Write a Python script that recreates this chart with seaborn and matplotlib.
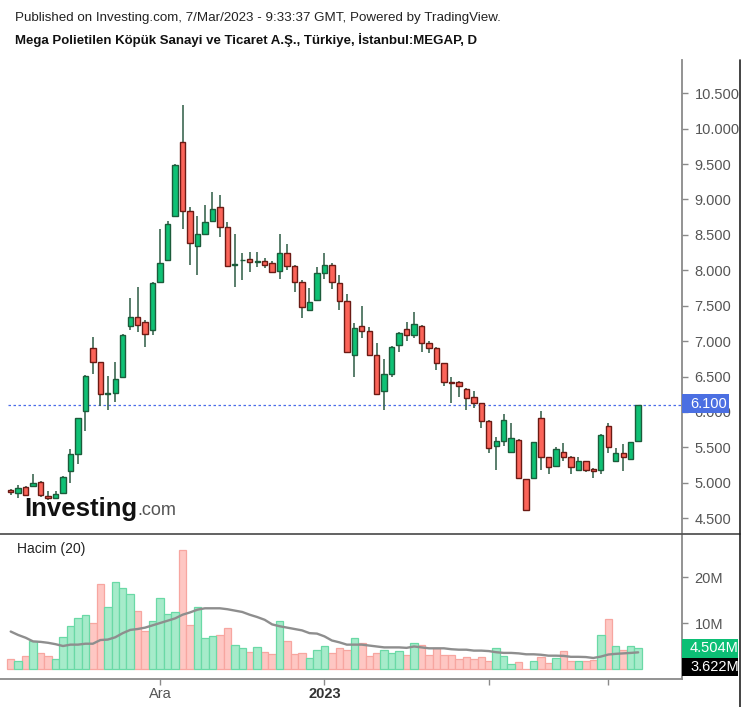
import numpy as np
import pandas as pd
import matplotlib
matplotlib.use("Agg")
import matplotlib.pyplot as plt
from matplotlib.patches import Rectangle
from matplotlib.lines import Line2D
import seaborn as sns

# ---------------- data ----------------
open_ = [4.90, 4.86, 4.94, 4.95, 5.01, 4.81, 4.79, 4.85, 5.17, 5.40,
         6.01, 6.90, 6.70, 6.26, 6.27, 6.49, 7.21, 7.34, 7.27, 7.15,
         7.83, 8.15, 8.77, 9.81, 8.84, 8.34, 8.51, 8.70, 8.89, 8.61,
         8.07, 8.14, 8.16, 8.12, 8.13, 8.11, 7.99, 8.25, 8.06, 7.84,
         7.44, 7.58, 7.96, 8.08, 7.82, 7.57, 6.80, 7.22, 7.14, 6.81,
         6.29, 6.54, 6.95, 7.17, 7.09, 7.22, 6.98, 6.90, 6.69, 6.42,
         6.42, 6.33, 6.21, 6.12, 5.87, 5.52, 5.59, 5.43, 5.61, 5.05,
         5.06, 5.91, 5.36, 5.24, 5.44, 5.37, 5.18, 5.30, 5.20, 5.18,
         5.80, 5.31, 5.42, 5.34, 5.59]
high_ = [4.91, 4.97, 4.95, 5.12, 5.02, 4.89, 4.89, 5.10, 5.47, 5.92,
         6.52, 7.06, 6.71, 6.51, 6.70, 7.10, 7.61, 7.77, 7.30, 7.83,
         8.59, 8.69, 9.50, 10.33, 8.90, 8.76, 8.92, 9.10, 9.06, 8.68,
         8.51, 8.24, 8.26, 8.26, 8.17, 8.13, 8.51, 8.37, 8.07, 7.86,
         7.75, 8.04, 8.25, 8.11, 7.94, 7.66, 7.25, 7.49, 7.20, 6.97,
         6.75, 6.93, 7.13, 7.27, 7.41, 7.23, 7.00, 6.92, 6.69, 6.50,
         6.43, 6.34, 6.30, 6.13, 5.88, 5.65, 5.97, 5.84, 5.62, 5.05,
         5.58, 6.02, 5.37, 5.51, 5.56, 5.38, 5.36, 5.31, 5.21, 5.69,
         5.84, 5.49, 5.55, 5.58, 6.10]
low_ = [4.83, 4.79, 4.81, 4.94, 4.80, 4.76, 4.77, 4.84, 4.99, 5.26,
        5.73, 6.54, 6.08, 6.03, 6.14, 6.48, 7.16, 7.13, 6.91, 7.08,
        7.82, 8.14, 8.76, 8.58, 8.07, 7.93, 8.50, 8.69, 8.47, 8.05,
        7.77, 7.86, 7.98, 8.04, 8.03, 7.96, 7.88, 8.00, 7.69, 7.32,
        7.42, 7.57, 7.88, 7.74, 7.44, 6.83, 6.50, 7.05, 6.79, 6.25,
        6.03, 6.49, 6.85, 7.00, 7.05, 6.85, 6.83, 6.59, 6.36, 6.12,
        6.21, 6.03, 6.06, 5.77, 5.42, 5.18, 5.52, 5.42, 5.05, 4.61,
        5.05, 5.18, 5.13, 5.22, 5.30, 5.12, 5.16, 5.15, 5.06, 5.13,
        5.42, 5.30, 5.17, 5.33, 5.58]
close_ = [4.87, 4.93, 4.83, 4.99, 4.83, 4.79, 4.84, 5.08, 5.40, 5.91,
          6.51, 6.70, 6.26, 6.27, 6.46, 7.09, 7.34, 7.23, 7.10, 7.82,
          8.11, 8.65, 9.49, 8.84, 8.38, 8.51, 8.68, 8.86, 8.61, 8.06,
          8.08, 8.15, 8.12, 8.13, 8.08, 7.97, 8.24, 8.06, 7.83, 7.48,
          7.55, 7.96, 8.08, 7.83, 7.57, 6.84, 7.19, 7.14, 6.80, 6.26,
          6.54, 6.92, 7.12, 7.09, 7.24, 6.97, 6.90, 6.69, 6.42, 6.41,
          6.37, 6.19, 6.13, 5.87, 5.49, 5.59, 5.88, 5.63, 5.06, 4.62,
          5.57, 5.36, 5.22, 5.47, 5.37, 5.22, 5.30, 5.18, 5.17, 5.68,
          5.50, 5.42, 5.36, 5.57, 6.10]
volume_m = [2.1, 1.85, 2.9, 6.0, 3.4, 2.9, 2.1, 7.0, 9.4, 11.0,
            11.8, 10.0, 18.4, 13.5, 19.0, 17.6, 16.2, 12.7, 8.2, 10.5,
            15.4, 11.9, 12.5, 25.8, 9.5, 13.4, 6.7, 7.1, 7.4, 8.9,
            5.3, 4.6, 3.8, 4.7, 3.8, 3.2, 10.5, 6.0, 3.2, 3.4,
            2.35, 4.2, 5.0, 3.4, 4.6, 4.2, 6.8, 5.7, 2.9, 3.4,
            4.2, 3.4, 4.0, 3.15, 5.7, 5.3, 3.15, 4.6, 3.15, 3.15,
            2.1, 2.7, 2.1, 2.7, 1.85, 4.6, 2.9, 1.0, 1.6, 0.1,
            1.85, 2.7, 1.35, 2.35, 4.0, 1.85, 1.85, 1.85, 1.9, 7.3,
            10.8, 5.1, 4.2, 4.9, 4.504]
vol_ma_m = [8.15, 7.4, 6.8, 6.0, 5.9, 5.7, 5.4, 5.0, 5.3, 5.3,
            5.5, 5.5, 6.3, 6.4, 6.9, 7.8, 8.5, 8.7, 9.0, 9.5,
            10.0, 10.5, 11.0, 11.8, 12.3, 12.9, 13.2, 13.2, 13.2, 13.0,
            12.7, 12.4, 11.8, 11.3, 10.7, 9.7, 9.3, 9.0, 8.7, 8.4,
            7.8, 7.7, 7.1, 6.2, 5.8, 5.3, 5.3, 5.3, 5.1, 4.9,
            4.7, 4.7, 4.7, 4.6, 4.9, 4.7, 4.5, 4.5, 4.5, 4.3,
            4.2, 4.2, 4.0, 4.0, 3.9, 3.65, 3.5, 3.5, 3.4, 3.2,
            3.2, 3.1, 2.9, 2.9, 2.85, 2.65, 2.65, 2.6, 2.4, 2.7,
            3.15, 3.3, 3.4, 3.5, 3.622]
price_ticks = [4.5, 5.0, 5.5, 6.0, 6.5, 7.0, 7.5, 8.0, 8.5, 9.0, 9.5, 10.0, 10.5]
price_tick_labels = ["4.500", "5.000", "5.500", "6.000", "6.500", "7.000", "7.500",
                     "8.000", "8.500", "9.000", "9.500", "10.000", "10.500"]
vol_ticks = [10, 20]
vol_tick_labels = ["10M", "20M"]
date_tick_pos = [20, 42, 64, 80]
date_tick_labels = ["Ara", "2023", "", ""]
last_price = 6.10
last_price_label = "6.100"
last_vol_label = "4.504M"
last_ma_label = "3.622M"
header_1 = "Published on Investing.com, 7/Mar/2023 - 9:33:37 GMT, Powered by TradingView."
header_2 = "Mega Polietilen Köpük Sanayi ve Ticaret A.Ş., Türkiye, İstanbul:MEGAP, D"
vol_title = "Hacim (20)"

# ---------------- style ----------------
sns.set_theme(style="white")
plt.rcParams["font.family"] = ["Liberation Sans", "DejaVu Sans"]

UP_FILL, UP_EDGE = "#0fc175", "#1b5c3b"
DN_FILL, DN_EDGE = "#fb6459", "#6b1a14"
WICK = "#2c5b44"
VUP_FILL, VUP_EDGE = "#a6ebca", "#6ad9a6"
VDN_FILL, VDN_EDGE = "#fec7c3", "#f7a6a0"
AXIS_GREY = "#8a8a8a"
LABEL_GREY = "#555555"

W, H = 747, 707
fig = plt.figure(figsize=(W / 100, H / 100), dpi=100)
fig.patch.set_facecolor("white")


def rect(x0, y0, x1, y1):
    return [x0 / W, 1 - y1 / H, (x1 - x0) / W, (y1 - y0) / H]


axp = fig.add_axes(rect(0, 60, 682, 534))
axv = fig.add_axes(rect(0, 534, 682, 679), sharex=axp)

o = np.array(open_)
h = np.array(high_)
l = np.array(low_)
c = np.array(close_)
x = np.arange(len(c))
up = c >= o

# ---------------- candles ----------------
axp.vlines(x, l, h, color=WICK, lw=1.1, zorder=2)
body_b = np.minimum(o, c)
body_h = np.maximum(np.abs(c - o), 0.012)
axp.bar(x, body_h, bottom=body_b, width=0.72,
        color=np.where(up, UP_FILL, DN_FILL),
        edgecolor=np.where(up, UP_EDGE, DN_EDGE), linewidth=1.0, zorder=3)

axp.hlines(last_price, -0.36, 90, colors="#4a6de8", linestyles=(0, (2, 2)), lw=0.9, zorder=1)

axp.set_ylim(4.276, 10.97)
axp.set_yticks(price_ticks)
axp.set_yticklabels(price_tick_labels)
axp.yaxis.tick_right()
axp.tick_params(axis="y", right=True, left=False, length=4, width=1, color=AXIS_GREY,
                labelcolor=LABEL_GREY, labelsize=10.5, pad=5)
axp.tick_params(axis="x", bottom=False, labelbottom=False)
for s in ["top", "left", "bottom"]:
    axp.spines[s].set_visible(False)
axp.spines["right"].set_color(AXIS_GREY)
axp.spines["right"].set_linewidth(1.3)

# ---------------- volume ----------------
dfv = pd.DataFrame({"i": x, "vol": volume_m, "dir": np.where(up, "up", "down")})
sns.barplot(data=dfv, x="i", y="vol", hue="dir",
            palette={"up": VUP_FILL, "down": VDN_FILL},
            native_scale=True, dodge=False, width=1.0, errorbar=None,
            saturation=1, legend=False, ax=axv, zorder=2)
for p in axv.patches:
    idx = int(round(p.get_x() + p.get_width() / 2))
    if 0 <= idx < len(up):
        p.set_edgecolor(VUP_EDGE if up[idx] else VDN_EDGE)
        p.set_linewidth(0.9)
sns.lineplot(x=x, y=vol_ma_m, ax=axv, color="#8e8e8e", lw=1.7, zorder=3)

axv.set_ylim(-2.17, 29.35)
axv.set_xlim(-1.432, 89.87)
axv.set_yticks(vol_ticks)
axv.set_yticklabels(vol_tick_labels)
axv.yaxis.tick_right()
axv.tick_params(axis="y", right=True, left=False, length=4, width=1, color=AXIS_GREY,
                labelcolor=LABEL_GREY, labelsize=10.5, pad=5)
axv.set_xticks(date_tick_pos)
axv.set_xticklabels(date_tick_labels)
axv.tick_params(axis="x", bottom=True, length=4, width=1, color=AXIS_GREY,
                labelcolor=LABEL_GREY, labelsize=10.5, pad=2)
axv.get_xticklabels()[1].set_fontweight("bold")
axv.get_xticklabels()[1].set_color("#333333")
axv.set_xlabel("")
axv.set_ylabel("")
for s in ["top", "left"]:
    axv.spines[s].set_visible(False)
for s in ["right", "bottom"]:
    axv.spines[s].set_color(AXIS_GREY)
    axv.spines[s].set_linewidth(1.3)

# ---------------- figure furniture ----------------
fig.add_artist(Line2D([0, 740 / W], [1 - 534 / H] * 2, color="#555555", lw=1.3))
fig.add_artist(Line2D([740 / W] * 2, [1 - 60 / H, 0], color="#222222", lw=1.2))

fig.text(15 / W, 1 - 21 / H, header_1, fontsize=9.6, color="#222222", va="baseline")
fig.text(15 / W, 1 - 44 / H, header_2, fontsize=9.5, fontweight="bold", color="#111111", va="baseline")
fig.text(17 / W, 1 - 549 / H, vol_title, fontsize=10, color="#222222", va="center")

# Investing.com watermark
t_inv = fig.text(24 / W, 1 - 516 / H, "Investing", fontsize=18.5, fontweight="bold",
                 color="#111111", va="baseline", zorder=5)
fig.add_artist(matplotlib.text.Annotation(
    ".com", xy=(1, 0), xycoords=t_inv, xytext=(0.5, 1.2), textcoords="offset points",
    va="bottom", ha="left", fontsize=13, color="#555555", zorder=5))


def label_box(x0, y0, x1, y1, color, text):
    fig.add_artist(Rectangle((x0 / W, 1 - y1 / H), (x1 - x0) / W, (y1 - y0) / H,
                             transform=fig.transFigure, facecolor=color, edgecolor="none", zorder=6))
    fig.text((x0 + 8) / W, 1 - ((y0 + y1) / 2) / H, text, color="white", fontsize=10.5,
             va="center", ha="left", zorder=7)


label_box(682, 394, 729, 413, "#4b6fe2", last_price_label)
label_box(682, 639, 738, 658, "#0cbf75", last_vol_label)
label_box(682, 658, 738, 676, "#000000", last_ma_label)

fig.savefig("out.png", dpi=100, facecolor="white")
